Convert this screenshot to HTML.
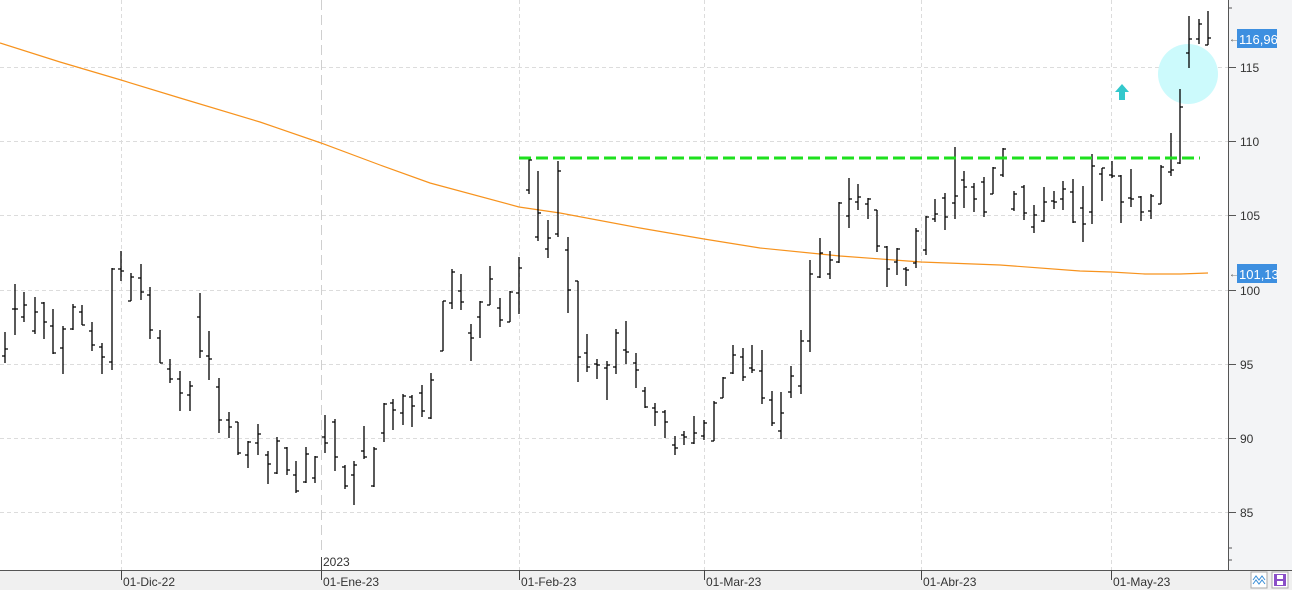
<!DOCTYPE html>
<html><head><meta charset="utf-8"><style>
html,body{margin:0;padding:0;background:#fff;}
svg{display:block;font-family:"Liberation Sans",sans-serif;}
</style></head><body>
<svg width="1292" height="590" viewBox="0 0 1292 590" xmlns="http://www.w3.org/2000/svg">
<rect x="0" y="0" width="1292" height="590" fill="#fff"/>
<rect x="1229" y="0" width="63" height="570" fill="#f3f4f6"/>
<rect x="0" y="570" width="1292" height="20" fill="#f0f0f0"/>
<g stroke="#dcdcdc" stroke-width="1" stroke-dasharray="4,3">
<line x1="0" y1="67.5" x2="1228" y2="67.5"/>
<line x1="0" y1="141.5" x2="1228" y2="141.5"/>
<line x1="0" y1="215.5" x2="1228" y2="215.5"/>
<line x1="0" y1="290.5" x2="1228" y2="290.5"/>
<line x1="0" y1="364.5" x2="1228" y2="364.5"/>
<line x1="0" y1="438.5" x2="1228" y2="438.5"/>
<line x1="0" y1="512.5" x2="1228" y2="512.5"/>
<line x1="121.5" y1="0" x2="121.5" y2="570"/>
<line x1="519.5" y1="0" x2="519.5" y2="570"/>
<line x1="704.5" y1="0" x2="704.5" y2="570"/>
<line x1="921.5" y1="0" x2="921.5" y2="570"/>
<line x1="1111.5" y1="0" x2="1111.5" y2="570"/>
</g>
<line x1="321.5" y1="0" x2="321.5" y2="550" stroke="#cfcfcf" stroke-width="1" stroke-dasharray="10,5"/>
<polyline fill="none" stroke="#f7931e" stroke-width="1.2" points="0,43 60,62 121,80 180,98 260,122 321,143 380,165 430,183 519,207 560,213 640,228 704,239 760,248 820,254 840,256 921,262 1000,265 1080,271 1111,272 1145,274 1180,274 1208,273"/>
<circle cx="1188" cy="74" r="30" fill="#ccfafc"/>
<g stroke="#000" stroke-width="1.3" fill="none">
<path d="M5 332V363M2 356H5M5 349H8"/>
<path d="M15 284V335M12 309H15M15 309H18"/>
<path d="M24 292V322M21 317H24M24 305H27"/>
<path d="M35 297V334M32 331H35M35 312H38"/>
<path d="M44 302V339M41 303H44M44 322H47"/>
<path d="M53 309V354M50 326H53M53 353H56"/>
<path d="M63 326V374M60 348H63M63 329H66"/>
<path d="M73 304V330M70 329H73M73 307H76"/>
<path d="M82 305V325M79 312H82M82 325H85"/>
<path d="M92 322V351M89 331H92M92 345H95"/>
<path d="M102 343V374M99 347H102M102 357H105"/>
<path d="M112 268V370M109 362H112M112 269H115"/>
<path d="M121 251V281M118 269H121M121 271H124"/>
<path d="M131 273V301M128 301H131M131 277H134"/>
<path d="M141 264V300M138 278H141M141 292H144"/>
<path d="M150 287V339M147 295H150M150 330H153"/>
<path d="M160 330V363M157 338H160M160 363H163"/>
<path d="M170 359V383M167 369H170M170 379H173"/>
<path d="M180 371V411M177 379H180M180 393H183"/>
<path d="M190 381V411M187 395H190M190 386H193"/>
<path d="M200 293V358M197 317H200M200 351H203"/>
<path d="M209 331V380M206 356H209M209 359H212"/>
<path d="M219 378V433M216 387H219M219 420H222"/>
<path d="M229 412V438M226 420H229M229 427H232"/>
<path d="M238 422V455M235 422H238M238 453H241"/>
<path d="M248 441V468M245 455H248M248 442H251"/>
<path d="M258 424V455M255 443H258M258 434H261"/>
<path d="M268 451V484M265 455H268M268 464H271"/>
<path d="M277 437V474M274 473H277M277 441H280"/>
<path d="M287 447V475M284 448H287M287 470H290"/>
<path d="M296 461V493M293 475H296M296 491H299"/>
<path d="M306 447V483M303 482H306M306 454H309"/>
<path d="M315 456V483M312 478H315M315 457H318"/>
<path d="M325 415V453M322 437H325M325 443H328"/>
<path d="M335 419V471M332 422H335M335 457H338"/>
<path d="M345 465V489M342 467H345M345 486H348"/>
<path d="M354 461V505M351 475H354M354 465H357"/>
<path d="M364 426V459M361 451H364M364 457H367"/>
<path d="M374 447V487M371 486H374M374 449H377"/>
<path d="M384 403V442M381 433H384M384 404H387"/>
<path d="M393 399V430M390 403H393M393 410H396"/>
<path d="M403 394V425M400 413H403M403 396H406"/>
<path d="M412 395V427M409 397H412M412 406H415"/>
<path d="M422 385V417M419 393H422M422 411H425"/>
<path d="M431 373V419M428 418H431M431 380H434"/>
<path d="M443 301V351M440 351H443M443 301H446"/>
<path d="M452 269V309M449 303H452M452 272H455"/>
<path d="M461 274V310M458 291H461M461 302H464"/>
<path d="M471 324V361M468 333H471M471 338H474"/>
<path d="M480 301V338M477 317H480M480 302H483"/>
<path d="M490 266V305M487 305H490M490 279H493"/>
<path d="M500 298V327M497 308H500M500 320H503"/>
<path d="M510 291V322M507 322H510M510 292H513"/>
<path d="M519 257V314M516 293H519M519 268H522"/>
<path d="M529 159V194M526 190H529M529 160H532"/>
<path d="M538 171V241M535 237H538M538 213H541"/>
<path d="M548 220V258M545 249H548M548 238H551"/>
<path d="M558 161V237M555 234H558M558 171H561"/>
<path d="M568 237V313M565 250H568M568 290H571"/>
<path d="M578 281V382M575 281H578M578 357H581"/>
<path d="M587 334V372M584 353H587M587 367H590"/>
<path d="M597 359V379M594 364H597M597 365H600"/>
<path d="M607 361V400M604 368H607M607 365H610"/>
<path d="M616 329V374M613 367H616M616 333H619"/>
<path d="M626 321V364M623 350H626M626 352H629"/>
<path d="M636 353V388M633 363H636M636 370H639"/>
<path d="M645 387V408M642 391H645M645 407H648"/>
<path d="M655 403V426M652 408H655M655 412H658"/>
<path d="M665 410V438M662 412H665M665 422H668"/>
<path d="M675 436V455M672 445H675M675 448H678"/>
<path d="M684 431V445M681 435H684M684 437H687"/>
<path d="M694 416V444M691 443H694M694 433H697"/>
<path d="M704 420V440M701 436H704M704 423H707"/>
<path d="M714 401V441M711 441H714M714 403H717"/>
<path d="M723 377V398M720 398H723M723 378H726"/>
<path d="M733 345V374M730 373H733M733 355H736"/>
<path d="M743 348V381M740 357H743M743 377H746"/>
<path d="M752 345V373M749 368H752M752 370H755"/>
<path d="M762 350V404M759 371H762M762 398H765"/>
<path d="M772 391V426M769 400H772M772 423H775"/>
<path d="M781 392V439M778 431H781M781 413H784"/>
<path d="M791 366V398M788 392H791M791 376H794"/>
<path d="M801 330V394M798 386H801M801 341H804"/>
<path d="M810 260V352M807 341H810M810 274H813"/>
<path d="M820 238V278M817 277H820M820 253H823"/>
<path d="M830 251V279M827 274H830M830 260H833"/>
<path d="M839 202V263M836 262H839M839 203H842"/>
<path d="M849 178V228M846 216H849M849 199H852"/>
<path d="M858 184V210M855 202H858M858 197H861"/>
<path d="M868 198V219M865 204H868M868 199H871"/>
<path d="M877 210V252M874 210H877M877 246H880"/>
<path d="M887 246V287M884 247H887M887 269H890"/>
<path d="M897 248V275M894 262H897M897 249H900"/>
<path d="M906 267V286M903 269H906M906 270H909"/>
<path d="M916 228V268M913 263H916M916 231H919"/>
<path d="M926 216V255M923 250H926M926 217H929"/>
<path d="M935 199V222M932 219H935M935 214H938"/>
<path d="M945 193V230M942 198H945M945 217H948"/>
<path d="M955 147V219M952 203H955M955 196H958"/>
<path d="M964 171V208M961 180H964M964 187H967"/>
<path d="M974 183V212M971 187H974M974 199H977"/>
<path d="M984 177V217M981 182H984M984 212H987"/>
<path d="M993 167V194M990 194H993M993 168H996"/>
<path d="M1003 148V177M1000 175H1003M1003 149H1006"/>
<path d="M1014 191V211M1011 209H1014M1014 194H1017"/>
<path d="M1024 185V220M1021 187H1024M1024 213H1027"/>
<path d="M1034 205V233M1031 227H1034M1034 215H1037"/>
<path d="M1044 187V222M1041 221H1044M1044 202H1047"/>
<path d="M1054 191V209M1051 201H1054M1054 202H1057"/>
<path d="M1063 181V210M1060 199H1063M1063 189H1066"/>
<path d="M1073 179V223M1070 192H1073M1073 222H1076"/>
<path d="M1083 186V242M1080 208H1083M1083 224H1086"/>
<path d="M1092 154V224M1089 212H1092M1092 166H1095"/>
<path d="M1102 168V201M1099 174H1102M1102 168H1105"/>
<path d="M1112 161V178M1109 175H1112M1112 176H1115"/>
<path d="M1121 175V223M1118 176H1121M1121 202H1124"/>
<path d="M1131 169V207M1128 198H1131M1131 199H1134"/>
<path d="M1141 196V221M1138 197H1141M1141 212H1144"/>
<path d="M1151 194V219M1148 211H1151M1151 196H1154"/>
<path d="M1161 165V204M1158 204H1161M1161 167H1164"/>
<path d="M1171 133V176M1168 172H1171M1171 170H1174"/>
<path d="M1180 89V164M1177 163H1180M1180 107H1183"/>
<path d="M1189 16V68M1186 53H1189M1189 39H1192"/>
<path d="M1199 19V44M1196 39H1199M1199 24H1202"/>
<path d="M1208 11V45M1205 45H1208M1208 38H1211"/>
</g>
<line x1="519" y1="158" x2="1200" y2="158" stroke="#1ee01e" stroke-width="3" stroke-dasharray="12,5"/>
<path d="M1122 84L1115 92H1119V100H1125V92H1129Z" fill="#33c8cc"/>
<line x1="1228.5" y1="0" x2="1228.5" y2="570" stroke="#555" stroke-width="1"/>
<g stroke="#555" stroke-width="1">
<line x1="1228" y1="67.5" x2="1236" y2="67.5"/><line x1="1228" y1="141.5" x2="1236" y2="141.5"/><line x1="1228" y1="215.5" x2="1236" y2="215.5"/><line x1="1228" y1="290.5" x2="1236" y2="290.5"/><line x1="1228" y1="364.5" x2="1236" y2="364.5"/><line x1="1228" y1="438.5" x2="1236" y2="438.5"/><line x1="1228" y1="512.5" x2="1236" y2="512.5"/>
<line x1="1228" y1="8" x2="1232" y2="8"/><line x1="1228" y1="548" x2="1232" y2="548"/><line x1="1228" y1="560" x2="1232" y2="560"/>
</g>
<g font-size="12" fill="#333">
<text x="1240" y="72">115</text><text x="1240" y="146">110</text><text x="1240" y="220">105</text><text x="1240" y="295">100</text><text x="1240" y="369">95</text><text x="1240" y="443">90</text><text x="1240" y="517">85</text>
</g>
<rect x="1237" y="29" width="40" height="19" fill="#3d8fe0"/>
<text x="1239" y="44" font-size="13" fill="#fff">116,96</text>
<rect x="1237" y="264" width="40" height="19" fill="#3d8fe0"/>
<text x="1239" y="279" font-size="13" fill="#fff">101,13</text>
<text x="1229" y="42" font-size="10" fill="#555">←</text>
<text x="1229" y="277" font-size="10" fill="#555">←</text>
<line x1="0" y1="570.5" x2="1292" y2="570.5" stroke="#555" stroke-width="1"/>
<g stroke="#444" stroke-width="1">
<line x1="121.5" y1="570" x2="121.5" y2="580"/><line x1="321.5" y1="557" x2="321.5" y2="580"/><line x1="519.5" y1="570" x2="519.5" y2="580"/><line x1="704.5" y1="570" x2="704.5" y2="580"/><line x1="921.5" y1="570" x2="921.5" y2="580"/><line x1="1111.5" y1="570" x2="1111.5" y2="580"/>
</g>
<g font-size="12" fill="#333">
<text x="123" y="586">01-Dic-22</text><text x="323" y="586">01-Ene-23</text><text x="521" y="586">01-Feb-23</text><text x="706" y="586">01-Mar-23</text><text x="923" y="586">01-Abr-23</text><text x="1113" y="586">01-May-23</text>
<text x="323" y="566">2023</text>
</g>
<rect x="1251" y="572" width="16" height="16" fill="#fff" stroke="#aaa"/>
<path d="M1253 580L1256 576L1259 580L1262 576L1265 580M1253 584L1256 580L1259 584L1262 580L1265 584" stroke="#3a8fd8" fill="none" stroke-width="1"/>
<rect x="1272" y="572" width="16" height="16" fill="#fff" stroke="#aaa"/>
<rect x="1274" y="574" width="12" height="12" fill="#8a4fc8"/>
<rect x="1277" y="575" width="6" height="4" fill="#fff"/>
<rect x="1277" y="581" width="6" height="4" fill="#fff"/>
</svg>
</body></html>
